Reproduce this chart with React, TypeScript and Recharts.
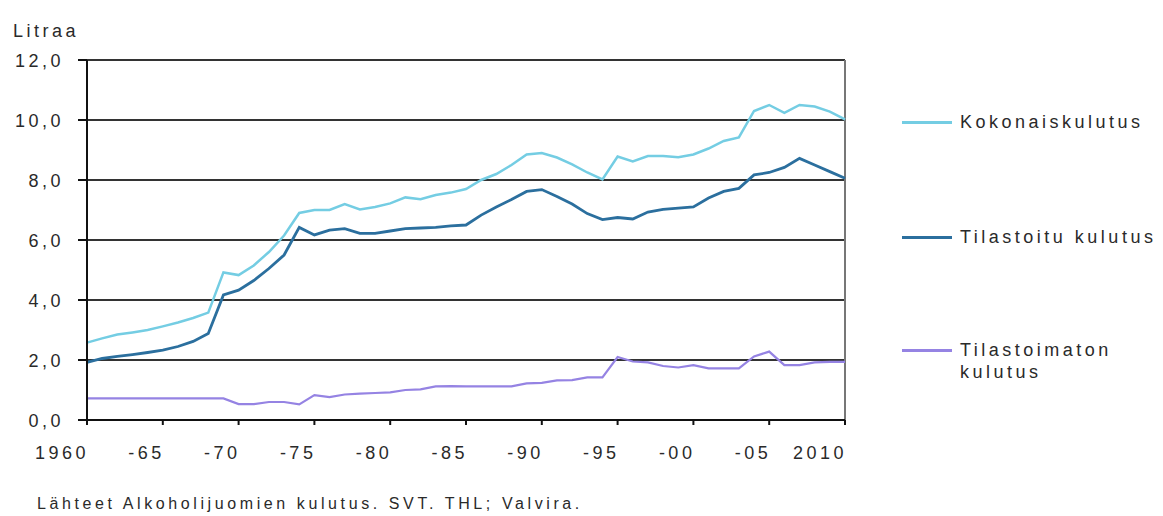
import React from 'react';
import { LineChart, Line, XAxis, YAxis, CartesianGrid, ReferenceLine, Legend } from 'recharts';

const years = [
  1960, 1961, 1962, 1963, 1964, 1965, 1966, 1967, 1968, 1969,
  1970, 1971, 1972, 1973, 1974, 1975, 1976, 1977, 1978, 1979,
  1980, 1981, 1982, 1983, 1984, 1985, 1986, 1987, 1988, 1989,
  1990, 1991, 1992, 1993, 1994, 1995, 1996, 1997, 1998, 1999,
  2000, 2001, 2002, 2003, 2004, 2005, 2006, 2007, 2008, 2009, 2010,
];

const kokonaiskulutus = [
  2.58, 2.72, 2.85, 2.92, 3.0, 3.12, 3.25, 3.4, 3.58, 4.92,
  4.83, 5.15, 5.6, 6.15, 6.9, 7.0, 7.0, 7.2, 7.02, 7.1,
  7.22, 7.42, 7.36, 7.5, 7.58, 7.7, 8.0, 8.2, 8.5, 8.85,
  8.9, 8.75, 8.52, 8.25, 8.02, 8.78, 8.62, 8.8, 8.8, 8.76,
  8.85, 9.05, 9.3, 9.42, 10.3, 10.5, 10.24, 10.5, 10.45, 10.28, 10.02,
];

const tilastoitu = [
  1.92, 2.05, 2.12, 2.18, 2.25, 2.33, 2.45, 2.62, 2.88, 4.17,
  4.33, 4.65, 5.05, 5.5, 6.42, 6.17, 6.33, 6.38, 6.22, 6.22,
  6.3, 6.38, 6.4, 6.42, 6.47, 6.5, 6.83, 7.1, 7.35, 7.62,
  7.68, 7.45, 7.2, 6.88, 6.68, 6.75, 6.7, 6.93, 7.02, 7.06,
  7.1, 7.4, 7.62, 7.72, 8.17, 8.25, 8.42, 8.72, 8.5, 8.28, 8.06,
];

const tilastoimaton = [
  0.72, 0.72, 0.72, 0.72, 0.72, 0.72, 0.72, 0.72, 0.72, 0.72,
  0.53, 0.53, 0.6, 0.6, 0.52, 0.83, 0.76, 0.85, 0.88, 0.9,
  0.92, 1.0, 1.02, 1.12, 1.13, 1.12, 1.12, 1.12, 1.12, 1.22,
  1.24, 1.32, 1.33, 1.42, 1.42, 2.1, 1.95, 1.92, 1.8, 1.75,
  1.83, 1.72, 1.72, 1.72, 2.12, 2.28, 1.83, 1.83, 1.92, 1.94, 1.94,
];

const xTickValues = [1960, 1965, 1970, 1975, 1980, 1985, 1990, 1995, 2000, 2005, 2010];
const xTickLabels = ['1960', '-65', '-70', '-75', '-80', '-85', '-90', '-95', '-00', '-05', '2010'];
const yTickValues = [0, 2, 4, 6, 8, 10, 12];
const yTickLabels = ['0,0', '2,0', '4,0', '6,0', '8,0', '10,0', '12,0'];

const seriesNames = ['Kokonaiskulutus', 'Tilastoitu kulutus', 'Tilastoimaton kulutus'];
const seriesColors = ['#74cde3', '#2b6f9e', '#9583e3'];

const data = years.map((year, i) => ({
  year,
  kokonais: kokonaiskulutus[i],
  tilastoitu: tilastoitu[i],
  tilastoimaton: tilastoimaton[i],
}));

const FONT = '"Liberation Sans", Arial, sans-serif';
const TEXT_COLOR = '#2a2a2a';
const FS = 18;
const LS = 3.5;

const XTick = (props: any) => {
  const { x, y, payload } = props;
  const idx = xTickValues.indexOf(payload.value);
  const label = idx >= 0 ? xTickLabels[idx] : String(payload.value);
  return (
    <text x={x + 2} y={y + 32} textAnchor="end" fontFamily={FONT} fontSize={FS} letterSpacing={LS} fill={TEXT_COLOR}>
      {label}
    </text>
  );
};

const YTick = (props: any) => {
  const { x, y, payload } = props;
  const idx = yTickValues.indexOf(payload.value);
  const label = idx >= 0 ? yTickLabels[idx] : String(payload.value);
  return (
    <text x={x - 12} y={y + 7} textAnchor="end" fontFamily={FONT} fontSize={FS} letterSpacing={LS} fill={TEXT_COLOR}>
      {label}
    </text>
  );
};

const legendTops = [22, 137, 250];

const renderLegend = () => (
  <div style={{ position: 'relative', width: 263, height: 300, fontFamily: FONT }}>
    {seriesNames.map((name, i) => {
      const words = i === 2 ? ['Tilastoimaton', 'kulutus'] : [name];
      return (
        <div key={name} style={{ position: 'absolute', left: 0, top: legendTops[i] - 11, height: 22, width: 263 }}>
          <div style={{ position: 'absolute', left: 2, top: 10, width: 50, height: 3, background: seriesColors[i] }} />
          <div style={{ position: 'absolute', left: 60, top: 0, fontSize: FS, letterSpacing: LS, color: TEXT_COLOR, lineHeight: '22px', whiteSpace: 'nowrap' }}>
            {words.map((w) => (
              <div key={w}>{w}</div>
            ))}
          </div>
        </div>
      );
    })}
  </div>
);

export default function App() {
  return (
    <div style={{ position: 'absolute', left: 0, top: 0, width: 1163, height: 516, background: '#ffffff', overflow: 'hidden' }}>
      <div style={{ position: 'absolute', left: 13, top: 21, fontFamily: FONT, fontSize: FS, letterSpacing: LS, color: TEXT_COLOR, lineHeight: '20px' }}>
        Litraa
      </div>
      <LineChart
        width={1163}
        height={516}
        data={data}
        margin={{ top: 60, right: 318, bottom: 66, left: 0 }}
      >
        <CartesianGrid horizontal vertical={false} stroke="#333333" strokeWidth={2} />
        <XAxis
          dataKey="year"
          type="number"
          domain={[1960, 2010]}
          ticks={xTickValues}
          interval={0}
          height={30}
          tickSize={5}
          axisLine={{ stroke: '#111111', strokeWidth: 2 }}
          tickLine={{ stroke: '#111111', strokeWidth: 2 }}
          tick={<XTick />}
        />
        <YAxis
          type="number"
          domain={[0, 12]}
          ticks={yTickValues}
          interval={0}
          width={87}
          tickSize={9}
          axisLine={{ stroke: '#111111', strokeWidth: 2 }}
          tickLine={{ stroke: '#111111', strokeWidth: 2 }}
          tick={<YTick />}
        />
        <ReferenceLine x={2010} stroke="#777777" strokeWidth={2} ifOverflow="extendDomain" />
        <Legend
          layout="horizontal"
          align="center"
          verticalAlign="middle"
          content={renderLegend}
          wrapperStyle={{ position: 'absolute', left: 900, top: 100, width: 263, height: 300, margin: 0 }}
        />
        <Line type="linear" dataKey="kokonais" name={seriesNames[0]} stroke={seriesColors[0]} strokeWidth={2.5} dot={false} isAnimationActive={false} />
        <Line type="linear" dataKey="tilastoitu" name={seriesNames[1]} stroke={seriesColors[1]} strokeWidth={2.8} dot={false} isAnimationActive={false} />
        <Line type="linear" dataKey="tilastoimaton" name={seriesNames[2]} stroke={seriesColors[2]} strokeWidth={2.2} dot={false} isAnimationActive={false} />
      </LineChart>
      <div style={{ position: 'absolute', left: 37, top: 494, fontFamily: FONT, fontSize: 16, letterSpacing: 3.6, color: TEXT_COLOR, lineHeight: '20px', whiteSpace: 'nowrap' }}>
        Lähteet Alkoholijuomien kulutus. SVT. THL; Valvira.
      </div>
    </div>
  );
}
